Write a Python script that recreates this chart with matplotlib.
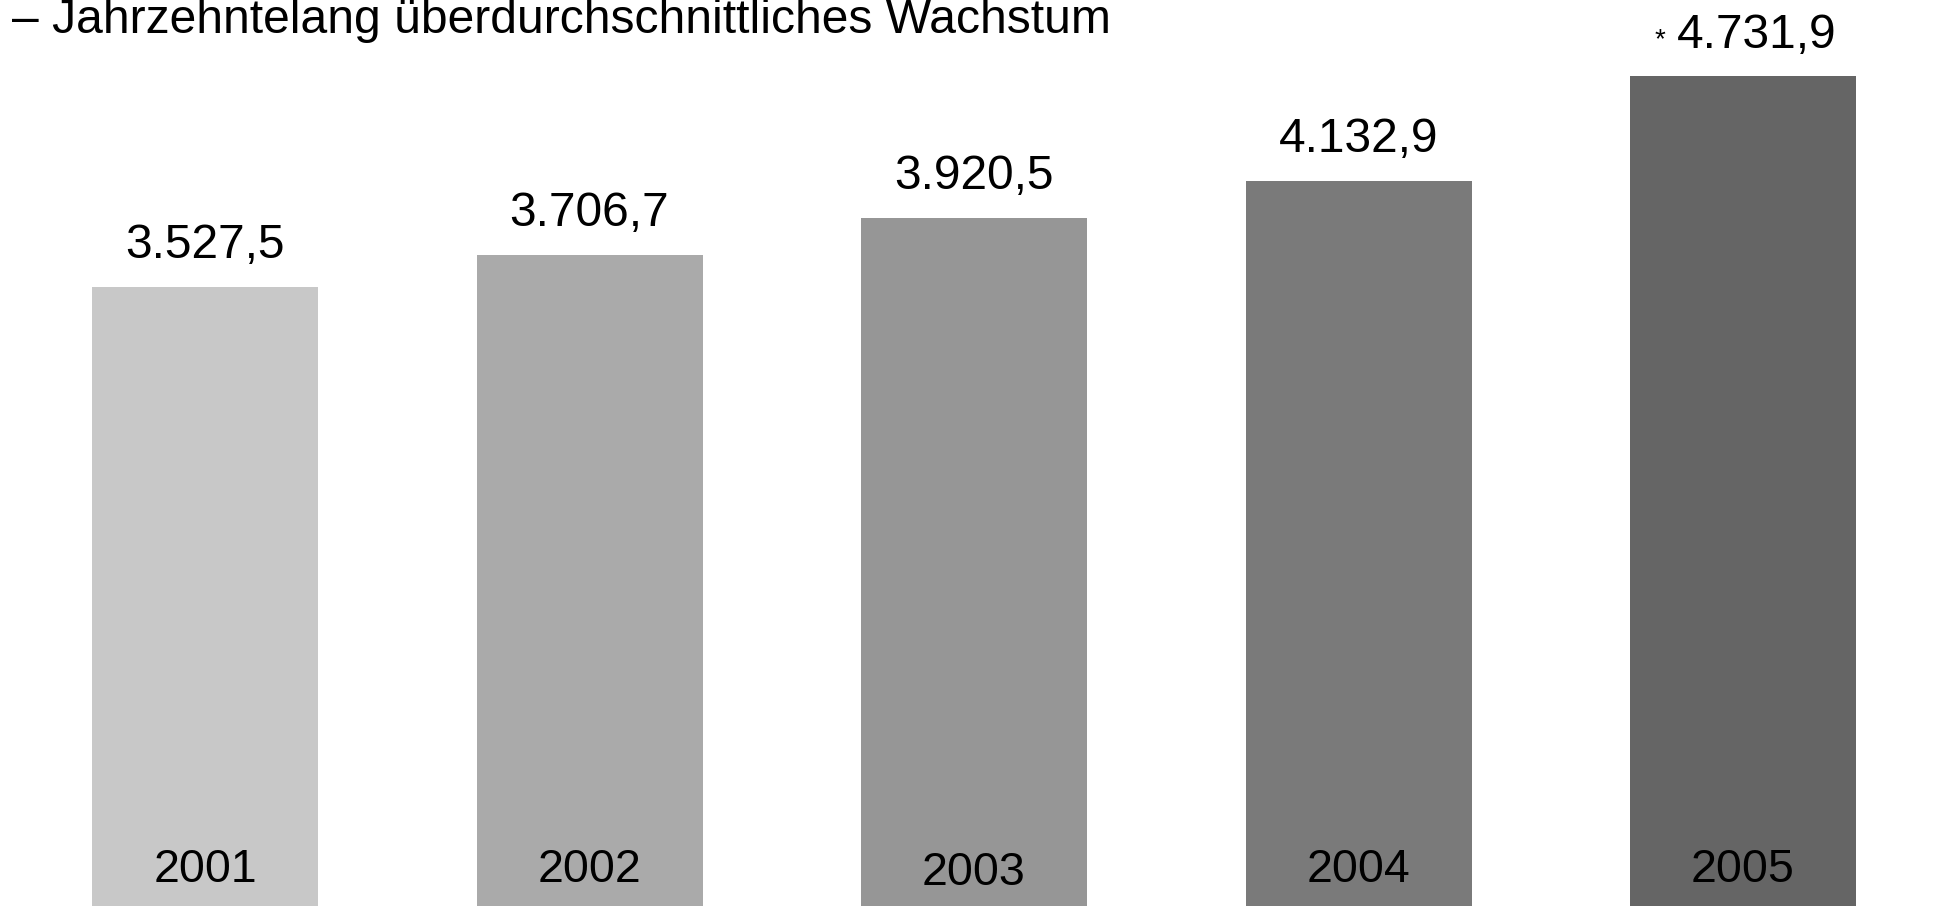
import matplotlib
matplotlib.use("Agg")
import matplotlib.pyplot as plt

plt.rcParams['font.family'] = ['Liberation Sans', 'DejaVu Sans']

years = ["2001", "2002", "2003", "2004", "2005"]
values = [3527.5, 3706.7, 3920.5, 4132.9, 4731.9]
value_labels = ["3.527,5", "3.706,7", "3.920,5", "4.132,9", "4.731,9"]
starred = [False, False, False, False, True]
colors = ["#c8c8c8", "#aaaaaa", "#969696", "#7a7a7a", "#656565"]
title = "– Jahrzehntelang überdurchschnittliches Wachstum"

W, H, DPI = 1934, 906, 100
fig = plt.figure(figsize=(W / DPI, H / DPI), dpi=DPI)
ax = fig.add_axes([0, 0, 1, 1])
ax.set_axis_off()

px_per_cat = 384.5
first_center = 205
px_per_val = 830.5 / 4731.9
ax.set_xlim(-first_center / px_per_cat, (W - first_center) / px_per_cat)
ax.set_ylim(0, H / px_per_val)

xs = list(range(len(values)))
ax.bar(xs, values, width=226 / px_per_cat, color=colors, linewidth=0)

pt = 72 / DPI  # points per pixel
for x, v, lab, st, yr in zip(xs, values, value_labels, starred, years):
    if st:
        ax.annotate(lab, (x, v), xytext=(-66 * pt, 28 * pt), textcoords='offset points',
                    ha='left', va='baseline', fontsize=34.5, color='black')
        ax.annotate("*", (x, v), xytext=(-83.5 * pt, 28 * pt), textcoords='offset points',
                    ha='center', va='baseline', fontsize=20, color='black')
    else:
        ax.annotate(lab, (x, v), xytext=(0, 29 * pt), textcoords='offset points',
                    ha='center', va='baseline', fontsize=34.5, color='black')
    dy = 21 if yr == "2003" else 24
    ax.annotate(yr, (x, 0), xytext=(0, dy * pt), textcoords='offset points',
                ha='center', va='baseline', fontsize=33.5, color='black')

fig.text(12 / W, 1 - 33 / H, title, ha='left', va='baseline', fontsize=34.6, color='black')

fig.savefig("out.png", dpi=DPI)
